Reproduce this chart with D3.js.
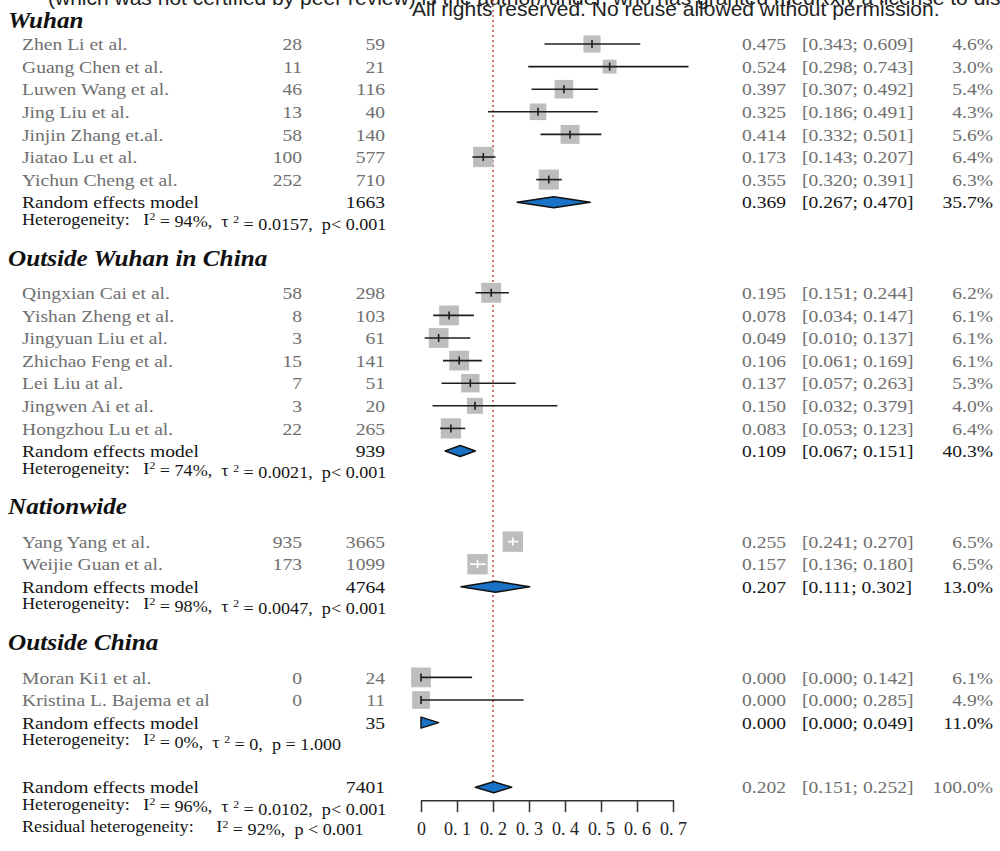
<!DOCTYPE html>
<html><head><meta charset="utf-8">
<script src="https://cdn.jsdelivr.net/npm/d3@7"></script>
<style>
html,body{margin:0;padding:0;background:#fff;}
svg text{white-space:pre;}
</style></head>
<body>
<svg id="chart" width="1000" height="851"></svg>
<script>
// ---------------- DATA ----------------
const groupNames = ["Wuhan", "Outside Wuhan in China", "Nationwide", "Outside China"];
const studyNames = [
  "Zhen Li et al.", "Guang Chen et al.", "Luwen Wang et al.", "Jing Liu et al.", "Jinjin Zhang et.al.", "Jiatao Lu et al.", "Yichun Cheng et al.",
  "Qingxian Cai et al.", "Yishan Zheng et al.", "Jingyuan Liu et al.", "Zhichao Feng et al.", "Lei Liu at al.", "Jingwen Ai et al.", "Hongzhou Lu et al.",
  "Yang Yang et al.", "Weijie Guan et al.",
  "Moran Ki1 et al.", "Kristina L. Bajema et al"
];
const studyGroup = [0,0,0,0,0,0,0, 1,1,1,1,1,1,1, 2,2, 3,3];
const studyEvents = [28,11,46,13,58,100,252, 58,8,3,15,7,3,22, 935,173, 0,0];
const studyTotal = [59,21,116,40,140,577,710, 298,103,61,141,51,20,265, 3665,1099, 24,11];
const studyEst = [0.475,0.524,0.397,0.325,0.414,0.173,0.355, 0.195,0.078,0.049,0.106,0.137,0.150,0.083, 0.255,0.157, 0.000,0.000];
const studyLower = [0.343,0.298,0.307,0.186,0.332,0.143,0.320, 0.151,0.034,0.010,0.061,0.057,0.032,0.053, 0.241,0.136, 0.000,0.000];
const studyUpper = [0.609,0.743,0.492,0.491,0.501,0.207,0.391, 0.244,0.147,0.137,0.169,0.263,0.379,0.123, 0.270,0.180, 0.142,0.285];
const studyWeight = [4.6,3.0,5.4,4.3,5.6,6.4,6.3, 6.2,6.1,6.1,6.1,5.3,4.0,6.4, 6.5,6.5, 6.1,4.9];

const pooledTotal = [1663, 939, 4764, 35];
const pooledEst = [0.369, 0.109, 0.207, 0.000];
const pooledLower = [0.267, 0.067, 0.111, 0.000];
const pooledUpper = [0.470, 0.151, 0.302, 0.049];
const pooledWeight = [35.7, 40.3, 13.0, 11.0];
const hetI2 = ["94%", "74%", "98%", "0%"];
const hetTau2 = ["0.0157", "0.0021", "0.0047", "0"];
const hetP = ["p< 0.001", "p< 0.001", "p< 0.001", "p = 1.000"];

const overallTotal = 7401, overallEst = 0.202, overallLower = 0.151, overallUpper = 0.252, overallWeight = 100.0;
const overallI2 = "96%", overallTau2 = "0.0102", overallP = "p< 0.001";
const residualI2 = "92%", residualP = "p < 0.001";

const refValue = 0.2;
const tickValues = [0, 0.1, 0.2, 0.3, 0.4, 0.5, 0.6, 0.7];
const tickLabels = ["0", "0. 1", "0. 2", "0. 3", "0. 4", "0. 5", "0. 6", "0. 7"];

const watermark1 = "(which was not certified by peer review) is the author/funder, who has granted medRxiv a license to display the preprint in perpetuity.";
const watermark2 = "All rights reserved. No reuse allowed without permission.";

// ---------------- LAYOUT ----------------
const svg = d3.select("#chart");
const serif = "'Liberation Serif','Times New Roman',serif";
const x = d3.scaleLinear().domain([0, 0.7]).range([421, 673]);
const boxSide = d3.scaleSqrt().domain([0, 6.5]).range([0, 20.4]);
const rowH = 22.6;
const sx = 1.12; // horizontal stretch of the scanned text
const greyText = "#6f6f6f", darkText = "#151515";
const blue = "#1a72c6";
const colName = 22, colEvents = 302, colTotal = 385, colEst = 742, colCI = 802, colW = 993;
const fmt3 = d3.format(".3f"), fmt1 = d3.format(".1f");

// compute row positions
const rows = [];
let y = 20;
groupNames.forEach((g, gi) => {
  if (gi > 0) y += 33;
  rows.push({type: "header", y, gi});
  y += (gi === 0 ? 24 : 35);
  studyNames.forEach((s, si) => {
    if (studyGroup[si] === gi) { rows.push({type: "study", y, si}); y += rowH; }
  });
  rows.push({type: "pooled", y, gi}); y += rowH;
  rows.push({type: "het", y, gi});
});
y += 42;
const overallY = y;
const overallHetY = y + rowH;
const residualY = y + 2 * rowH;
const axisY = overallY + 13;

// watermark text (top)
svg.append("text").attr("x", 48).attr("y", 5).attr("font-family", "'Liberation Sans',Arial,sans-serif")
  .attr("font-size", 21).attr("fill", "#222").text(watermark1);
svg.append("text").attr("x", 412).attr("y", 16).attr("font-family", "'Liberation Sans',Arial,sans-serif")
  .attr("font-size", 21).attr("fill", "#222").text(watermark2);

// reference line
svg.append("line").attr("x1", x(refValue)).attr("x2", x(refValue)).attr("y1", 0).attr("y2", overallY - 5)
  .attr("stroke", "#c8473a").attr("stroke-width", 1.5).attr("stroke-dasharray", "2,3");

function txt(xp, yp, s, opts = {}) {
  return svg.append("text").attr("transform", `translate(${xp},${yp}) scale(${sx},1)`).attr("dy", "0.35em")
    .attr("font-family", serif).attr("font-size", opts.size || 17.5)
    .attr("fill", opts.fill || darkText).attr("text-anchor", opts.anchor || "start")
    .attr("font-weight", opts.weight || null).attr("font-style", opts.style || null).text(s);
}
function hetText(yp, parts) {
  const t = svg.append("text").attr("transform", `translate(${colName},${yp}) scale(${sx},1)`).attr("dy", "0.35em")
    .attr("font-family", serif).attr("font-size", 16.2).attr("fill", darkText);
  parts.forEach(p => {
    if (p.sup) t.append("tspan").attr("font-size", 10.5).attr("dy", "-0.42em").text(p.sup);
    else t.append("tspan").attr("dy", p.after ? "0.42em" : 0).text(p.t);
  });
}
function diamond(yp, lo, est, hi) {
  const h = 5.5;
  svg.append("path")
    .attr("d", `M${x(lo)},${yp} L${x(est)},${yp - h} L${x(hi)},${yp} L${x(est)},${yp + h} Z`)
    .attr("fill", blue).attr("stroke", "#111").attr("stroke-width", 1.5).attr("stroke-linejoin", "round");
}

rows.forEach(r => {
  if (r.type === "header") {
    txt(8, r.y, groupNames[r.gi], {size: 22.5, weight: "bold", style: "italic", fill: "#111"});
  } else if (r.type === "study") {
    const i = r.si;
    txt(colName, r.y, studyNames[i], {fill: greyText});
    txt(colEvents, r.y, String(studyEvents[i]), {fill: greyText, anchor: "end"});
    txt(colTotal, r.y, String(studyTotal[i]), {fill: greyText, anchor: "end"});
    txt(colEst, r.y, fmt3(studyEst[i]), {fill: greyText});
    txt(colCI, r.y, `[${fmt3(studyLower[i])}; ${fmt3(studyUpper[i])}]`, {fill: greyText});
    txt(colW, r.y, fmt1(studyWeight[i]) + "%", {fill: greyText, anchor: "end"});
    const side = boxSide(studyWeight[i]);
    const cx = x(studyEst[i]);
    svg.append("rect").attr("x", cx - side / 2).attr("y", r.y - side / 2).attr("width", side).attr("height", side)
      .attr("fill", "#bdbdbd");
    const inside = x(studyLower[i]) >= cx - side / 2 && x(studyUpper[i]) <= cx + side / 2;
    const lc = inside ? "#ffffff" : "#1e1e1e";
    svg.append("line").attr("x1", x(studyLower[i])).attr("x2", x(studyUpper[i])).attr("y1", r.y).attr("y2", r.y)
      .attr("stroke", lc).attr("stroke-width", 1.6);
    svg.append("line").attr("x1", cx).attr("x2", cx).attr("y1", r.y - 4).attr("y2", r.y + 4)
      .attr("stroke", lc).attr("stroke-width", 1.6);
  } else if (r.type === "pooled") {
    const g = r.gi;
    txt(colName, r.y, "Random effects model");
    txt(colTotal, r.y, String(pooledTotal[g]), {anchor: "end"});
    txt(colEst, r.y, fmt3(pooledEst[g]));
    txt(colCI, r.y, `[${fmt3(pooledLower[g])}; ${fmt3(pooledUpper[g])}]`);
    txt(colW, r.y, fmt1(pooledWeight[g]) + "%", {anchor: "end"});
    diamond(r.y, pooledLower[g], pooledEst[g], pooledUpper[g]);
  } else if (r.type === "het") {
    const g = r.gi;
    hetText(r.y, [{t: "Heterogeneity:   I"}, {sup: "2"}, {t: ` = ${hetI2[g]},  τ `, after: true}, {sup: "2"},
      {t: ` = ${hetTau2[g]},  ${hetP[g]}`, after: true}]);
  }
});

// overall
txt(colName, overallY, "Random effects model");
txt(colTotal, overallY, String(overallTotal), {anchor: "end"});
txt(colEst, overallY, fmt3(overallEst), {fill: greyText});
txt(colCI, overallY, `[${fmt3(overallLower)}; ${fmt3(overallUpper)}]`, {fill: greyText});
txt(colW, overallY, fmt1(overallWeight) + "%", {fill: greyText, anchor: "end"});
diamond(overallY, overallLower, overallEst, overallUpper);
hetText(overallHetY, [{t: "Heterogeneity:   I"}, {sup: "2"}, {t: ` = ${overallI2},  τ `, after: true}, {sup: "2"},
  {t: ` = ${overallTau2},  ${overallP}`, after: true}]);
hetText(residualY, [{t: "Residual heterogeneity:     I"}, {sup: "2"}, {t: ` = ${residualI2},  ${residualP}`, after: true}]);

// axis
const axis = d3.axisBottom(x).tickValues(tickValues).tickFormat((d, i) => tickLabels[i])
  .tickSizeInner(12).tickSizeOuter(0).tickPadding(10);
const ag = svg.append("g").attr("transform", `translate(0,${axisY})`).call(axis);
ag.select(".domain").attr("stroke", "#333").attr("stroke-width", 1.5);
ag.selectAll(".tick line").attr("stroke", "#333").attr("stroke-width", 1.5);
ag.selectAll(".tick text").attr("font-family", serif).attr("font-size", 18).attr("fill", "#222");
</script>
</body></html>
